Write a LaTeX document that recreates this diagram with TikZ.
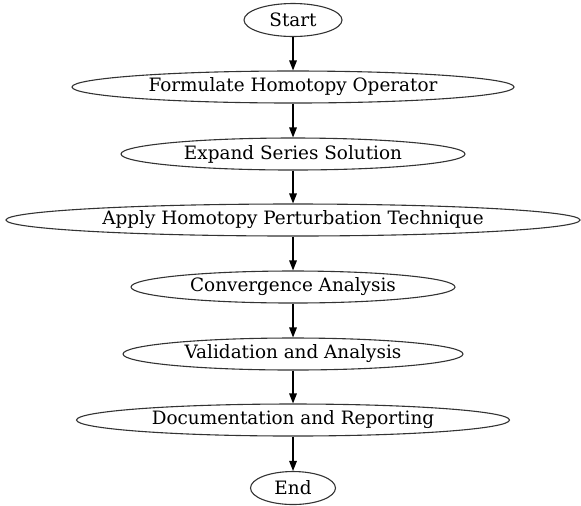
\documentclass[tikz,border=0pt]{standalone}
\usepackage{fontspec}
\setmainfont{DejaVu Serif}
\usetikzlibrary{shapes.geometric,arrows.meta}
\begin{document}
\begin{tikzpicture}[x=0.5pt,y=-0.5pt,
  stepnode/.style={draw=black!80,line width=0.55pt,ellipse,inner sep=0pt,minimum height=16pt,font=\fontsize{9.2}{11}\selectfont},
  flow/.style={-{Triangle[length=5pt,width=3.8pt]},line width=0.6pt,black}]
\useasboundingbox (0,0) rectangle (581,505);
\node[stepnode,minimum width=49pt,minimum height=16.5pt] (start) at (293,20) {Start};
\node[stepnode,minimum width=221pt] (form) at (293,87) {Formulate Homotopy Operator};
\node[stepnode,minimum width=172pt] (expand) at (293,154) {Expand Series Solution};
\node[stepnode,minimum width=287pt] (apply) at (293,220) {Apply Homotopy Perturbation Technique};
\node[stepnode,minimum width=162pt] (conv) at (293,287) {Convergence Analysis};
\node[stepnode,minimum width=170pt] (valid) at (293,354) {Validation and Analysis};
\node[stepnode,minimum width=216.5pt] (doc) at (293,420) {Documentation and Reporting};
\node[stepnode,minimum width=42.5pt,minimum height=16.5pt] (end) at (293,488) {End};
\draw[flow] (start) -- (form);
\draw[flow] (form) -- (expand);
\draw[flow] (expand) -- (apply);
\draw[flow] (apply) -- (conv);
\draw[flow] (conv) -- (valid);
\draw[flow] (valid) -- (doc);
\draw[flow] (doc) -- (end);
\end{tikzpicture}
\end{document}
